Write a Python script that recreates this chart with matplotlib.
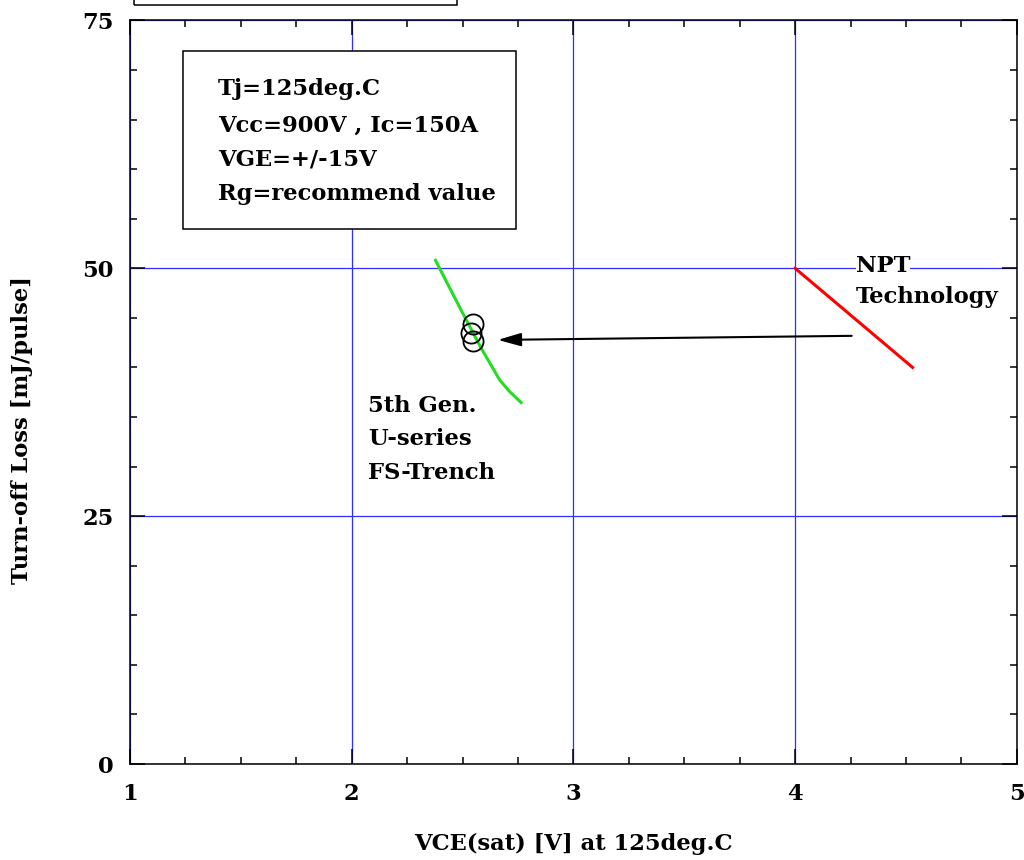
import matplotlib
matplotlib.use("Agg")
import matplotlib.pyplot as plt
from matplotlib.patches import Rectangle
from matplotlib.ticker import MultipleLocator

plt.rcParams['font.family'] = ['DejaVu Serif']
plt.rcParams['font.weight'] = 'bold'

# 5th gen U-series FS-Trench trade-off curve
fs_vce = [2.378, 2.44, 2.50, 2.58, 2.667, 2.712, 2.764]
fs_eoff = [50.8, 48.1, 45.5, 42.1, 38.75, 37.57, 36.46]

# measured points (open circles)
pt_vce = [2.548, 2.536, 2.546]
pt_eoff = [44.4, 43.5, 42.7]

# NPT trade-off line
npt_vce = [4.0, 4.53]
npt_eoff = [50.0, 40.0]

cond_lines = ["Tj=125deg.C", "Vcc=900V , Ic=150A", "VGE=+/-15V", "Rg=recommend value"]
cond_base = [67.5, 63.8, 60.4, 56.9]
fs_lines = ["5th Gen.", "U-series", "FS-Trench"]
fs_base = [35.55, 32.2, 28.7]
npt_lines = ["NPT", "Technology"]
npt_base = [49.6, 46.5]

FS = 16.3

fig = plt.figure(figsize=(10.24, 8.6), dpi=100)
ax = fig.add_axes([0.127, 0.1116, 0.866, 0.8646])

ax.set_xlim(1, 5)
ax.set_ylim(0, 75)
ax.xaxis.set_major_locator(MultipleLocator(1))
ax.xaxis.set_minor_locator(MultipleLocator(0.25))
ax.yaxis.set_major_locator(MultipleLocator(25))
ax.yaxis.set_minor_locator(MultipleLocator(5))
ax.tick_params(which='both', direction='in', top=True, right=True, width=1.1)
ax.tick_params(which='major', length=11, labelsize=FS)
ax.tick_params(which='minor', length=5)
ax.tick_params(axis='x', which='major', pad=14)
ax.tick_params(axis='y', which='major', pad=12)
for s in ax.spines.values():
    s.set_linewidth(1.1)
ax.grid(True, which='major', color='#2f2fff', lw=0.9)
ax.set_axisbelow(True)

ax.plot(fs_vce, fs_eoff, color='#22dd22', lw=2.2, zorder=3)
ax.plot(npt_vce, npt_eoff, color='#ff0000', lw=2.2, zorder=3)
ax.plot(pt_vce, pt_eoff, 'o', mfc='none', mec='black', ms=14.5, mew=1.3, zorder=4)

ax.annotate("", xy=(2.659, 42.78), xytext=(4.255, 43.19),
            arrowprops=dict(arrowstyle='-|>,head_length=0.7,head_width=0.2',
                            mutation_scale=20, color='black', lw=1.5,
                            shrinkA=0, shrinkB=0), zorder=5)

# conditions box
ax.add_patch(Rectangle((1.239, 54.0), 1.504, 17.95, fc='white', ec='black',
                       lw=1.1, zorder=6))
for line, yb in zip(cond_lines, cond_base):
    ax.text(1.396, yb, line, fontsize=FS, fontweight='bold', va='baseline',
            ha='left', zorder=7)

for line, yb in zip(fs_lines, fs_base):
    ax.text(2.073, yb, line, fontsize=FS, fontweight='bold', va='baseline', ha='left')

for line, yb in zip(npt_lines, npt_base):
    ax.text(4.273, yb, line, fontsize=FS, fontweight='bold', va='baseline', ha='left',
            bbox=dict(fc='white', ec='none', pad=0), zorder=6)

fig.text(0.56, 0.0186, "VCE(sat) [V] at 125deg.C", fontsize=FS, fontweight='bold',
         ha='center', va='center')
fig.text(0.0215, 0.5, "Turn-off Loss [mJ/pulse]", fontsize=FS, fontweight='bold',
         ha='center', va='center', rotation=90)

# title frame above the plot, cut by the top edge
fig.patches.append(Rectangle((0.131, 0.9942), 0.315, 0.1, transform=fig.transFigure,
                             fc='none', ec='black', lw=1.1, figure=fig))

fig.savefig("out.png", dpi=100)
